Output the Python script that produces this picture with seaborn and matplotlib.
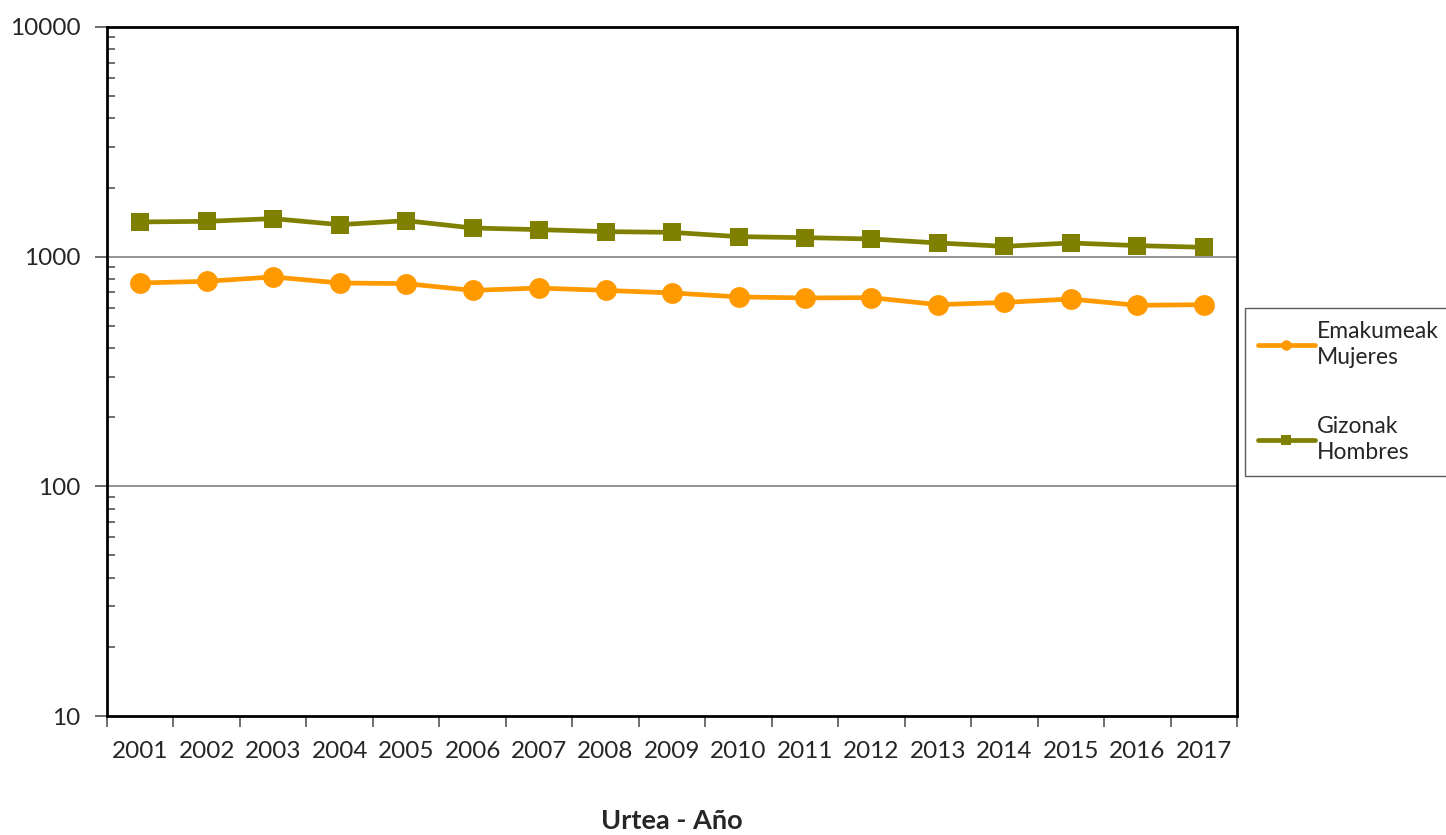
import numpy as np
import pandas as pd
import seaborn as sns
import matplotlib.pyplot as plt
from matplotlib.ticker import FixedLocator, NullFormatter, FixedFormatter

years = list(range(2001, 2018))
mujeres = [768, 781, 816, 768, 763, 713, 730, 713, 695, 668, 661, 663, 618, 632, 654, 614, 618]
hombres = [1416, 1425, 1464, 1378, 1434, 1333, 1311, 1285, 1276, 1222, 1210, 1194, 1147, 1109, 1147, 1117, 1098]
label_m = "Emakumeak\nMujeres"
label_h = "Gizonak\nHombres"

df = pd.DataFrame({"Urtea": years, "Mujeres": mujeres, "Hombres": hombres})

sns.set_style("white")
plt.rcParams['font.family'] = ['Lato', 'DejaVu Sans']

fig = plt.figure(figsize=(14.46, 8.35), dpi=100)
ax = fig.add_axes([0.074, 0.1425, 0.7815, 0.8252])

# Series
sns.lineplot(data=df, x="Urtea", y="Mujeres", ax=ax, color="#FF9900", linewidth=3.4,
             marker="o", markersize=15, markeredgewidth=0, label=label_m)
sns.lineplot(data=df, x="Urtea", y="Hombres", ax=ax, color="#808000", linewidth=3.4,
             marker="s", markersize=13.5, markeredgewidth=0, label=label_h)

ax.set_yscale("log")
ax.set_ylim(10, 10000)
ax.set_xlim(years[0] - 0.5, years[-1] + 0.5)

# Ejes Y: ticks mayores fuera, menores dentro
ax.yaxis.set_major_locator(FixedLocator([10, 100, 1000, 10000]))
ax.yaxis.set_major_formatter(FixedFormatter(["10", "100", "1000", "10000"]))
ax.yaxis.set_minor_locator(FixedLocator([m * 10 ** e for e in range(1, 4) for m in range(2, 10)]))
ax.yaxis.set_minor_formatter(NullFormatter())
ax.tick_params(axis="y", which="major", direction="out", length=9, width=1.2, color="#555555",
               labelsize=17.5, pad=10, left=True)
ax.tick_params(axis="y", which="minor", direction="in", length=6, width=1.2, color="#555555", left=True)

# Ejes X: etiquetas en el centro, ticks en los bordes
ax.set_xticks(years)
ax.set_xticklabels([str(y) for y in years])
ax.xaxis.set_minor_locator(FixedLocator([y - 0.5 for y in years] + [years[-1] + 0.5]))
ax.tick_params(axis="x", which="major", length=0, labelsize=17.5, pad=18)
ax.tick_params(axis="x", which="minor", direction="out", length=8, width=1.2, color="#555555", bottom=True)

# Rejilla
for v in [100, 1000]:
    ax.axhline(v, color="#808080", linewidth=1.2, zorder=0)
ax.grid(False)

for s in ax.spines.values():
    s.set_color("black")
    s.set_linewidth(2)

ax.set_xlabel("Urtea - Año", fontsize=19.5, fontweight="bold", labelpad=34)
ax.set_ylabel("")

leg = ax.legend(loc="upper left", bbox_to_anchor=(0.861, 0.631), bbox_transform=fig.transFigure,
                fontsize=16.5, frameon=True, fancybox=False, edgecolor="#333333",
                markerscale=0.5, handlelength=2.5, handletextpad=0.1, labelspacing=2.1,
                borderpad=0.55, borderaxespad=0)
leg.get_frame().set_linewidth(1)
for t in leg.get_texts():
    t.set_linespacing(1.3)

plt.savefig("out.png", dpi=100)
